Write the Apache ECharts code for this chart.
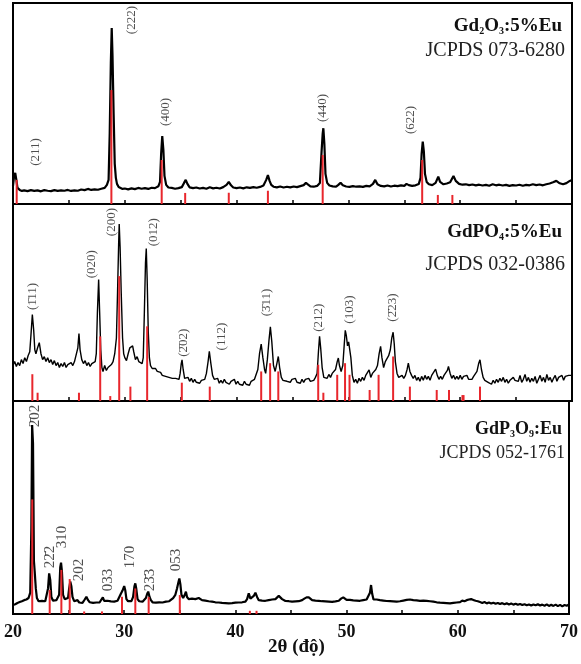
<!DOCTYPE html>
<html>
<head>
<meta charset="utf-8">
<script src="https://cdn.jsdelivr.net/npm/echarts@6/dist/echarts.min.js"></script>
<style>
  html, body { margin: 0; padding: 0; background: #fff; }
  #chart { width: 581px; height: 664px; }
</style>
</head>
<body>
<div id="chart"></div>
<script>
// ---- 2θ axis ----
const twoThetaMin = 20;
const twoThetaMax = 70;
const twoThetaLabels = [20, 30, 40, 50, 60, 70];

// ---- Gd2O3:5%Eu : measured pattern [2θ, intensity] ----
const gdOxideScan = [
  [20.0,9],[20.1,14],[20.2,15.5],[20.3,12],[20.4,8],[20.6,7],[20.8,6.5],[21.0,6.8],[21.3,6.4],[21.6,6.9],
  [21.9,6.5],[22.2,6.8],[22.5,6.3],[22.8,6.9],[23.1,6.6],[23.4,6.4],[23.7,6.9],[24.0,6.5],[24.3,6.8],[24.6,6.6],
  [24.9,7.0],[25.2,6.5],[25.5,6.8],[25.8,6.6],[26.1,7.2],[26.4,6.9],[26.7,7.5],[27.0,7.0],[27.3,7.3],[27.6,7.1],
  [27.9,7.6],[28.2,8.0],[28.4,9.5],[28.55,12],[28.65,35],[28.75,70],[28.83,87.6],[28.9,74],[29.0,45],[29.1,20],
  [29.2,13],[29.3,10],[29.45,8.5],[29.6,8.0],[29.8,7.5],[30.0,7.7],[30.3,7.3],[30.6,7.8],[30.9,7.4],[31.2,8.0],
  [31.5,7.6],[31.8,7.9],[32.1,7.5],[32.4,8.1],[32.7,7.9],[33.0,8.8],[33.15,11],[33.25,25],[33.35,33.8],[33.45,27],
  [33.55,14],[33.7,9.5],[33.9,8.2],[34.2,8.0],[34.5,7.6],[34.8,7.9],[35.1,8.4],[35.3,10.5],[35.45,12],[35.6,10],
  [35.8,8.3],[36.1,7.9],[36.4,8.2],[36.7,7.7],[37.0,8.0],[37.3,7.6],[37.6,8.3],[37.9,7.8],[38.2,8.1],[38.5,7.7],
  [38.8,8.4],[39.1,9.5],[39.3,11],[39.5,9.3],[39.7,8.2],[40.0,7.9],[40.3,8.2],[40.6,7.8],[40.9,8.3],[41.2,8.0],
  [41.5,8.4],[41.8,8.1],[42.1,8.5],[42.4,9.2],[42.65,12],[42.8,14.4],[42.95,11.5],[43.1,9.5],[43.3,8.6],[43.6,8.3],
  [43.9,8.7],[44.2,8.2],[44.5,8.6],[44.8,8.3],[45.1,8.7],[45.4,8.4],[45.7,8.9],[46.0,9.4],[46.2,10.5],[46.4,9.6],
  [46.6,8.8],[46.9,8.6],[47.2,9.0],[47.45,10.5],[47.6,26],[47.7,35],[47.76,37.7],[47.85,30],[47.95,15],[48.1,10.5],
  [48.3,9.2],[48.6,8.8],[48.9,8.6],[49.1,9.5],[49.3,10.6],[49.5,9.3],[49.8,8.7],[50.1,8.5],[50.4,8.9],[50.7,8.6],
  [51.0,8.8],[51.3,8.5],[51.6,9.0],[51.9,8.8],[52.2,10.0],[52.4,12],[52.6,9.8],[52.9,9.0],[53.2,8.8],[53.5,9.2],
  [53.8,8.7],[54.1,9.1],[54.4,8.9],[54.7,9.3],[55.0,9.0],[55.2,10.0],[55.4,9.4],[55.7,9.0],[56.0,9.3],[56.3,10.0],
  [56.45,13],[56.55,25],[56.65,31],[56.75,26],[56.85,15],[57.0,11],[57.2,9.8],[57.5,9.4],[57.8,10.5],[58.04,13.6],
  [58.2,11],[58.5,9.8],[58.8,10.2],[59.1,10.8],[59.4,13.9],[59.6,11.5],[59.9,10.0],[60.2,9.6],[60.5,9.8],[60.8,9.4],
  [61.1,9.7],[61.4,9.3],[61.7,9.6],[62.0,9.2],[62.3,9.5],[62.6,9.1],[62.9,9.8],[63.2,9.3],[63.5,9.6],[63.8,9.2],
  [64.1,9.5],[64.4,9.0],[64.7,9.4],[65.0,9.2],[65.3,9.6],[65.6,9.1],[65.9,9.5],[66.2,9.3],[66.5,9.8],[66.8,9.4],
  [67.1,9.7],[67.4,9.3],[67.7,9.8],[68.0,10.2],[68.3,10.8],[68.6,11.5],[68.9,10.3],[69.2,9.8],[69.5,10.4],[69.8,11.5],
  [70.0,12]
];
// JCPDS 073-6280 reference lines [2θ, intensity]
const gdOxideRef = [
  [20.33,12],[28.8,56.7],[33.3,21.9],[35.4,5.5],[39.3,5.6],[42.8,6.6],[47.7,24.4],[56.6,21.9],[58.0,4.5],[59.3,4.5]
];
const gdOxideHkl = ['(211)', '(222)', '(400)', '(440)', '(622)'];
const gdOxideHklAt = [[22.06,25.9],[30.62,91.5],[33.69,45.8],[47.73,47.8],[55.57,41.8]];

// ---- GdPO4:5%Eu : measured pattern ----
const gdPhosphateScan = [
  [20.0,18],[20.15,20],[20.3,17.5],[20.45,19.5],[20.6,18],[20.75,21],[20.9,19],[21.05,22],[21.2,20],[21.35,23],
  [21.5,25],[21.6,33],[21.73,43.9],[21.85,36],[21.95,26],[22.05,24],[22.2,27],[22.35,29.6],[22.5,24],[22.65,21],
  [22.8,22.5],[22.95,20],[23.1,22],[23.25,19.5],[23.4,21],[23.55,18.5],[23.7,20.5],[23.85,18],[24.0,19.5],[24.15,17],
  [24.3,19],[24.45,17.5],[24.6,19.5],[24.75,17],[24.9,18.5],[25.05,17.5],[25.2,19.5],[25.35,18],[25.5,20],[25.65,21],
  [25.8,27],[25.9,34.2],[26.0,26],[26.15,21],[26.3,19],[26.45,20.5],[26.6,18],[26.75,19.5],[26.9,17.5],[27.05,19],
  [27.2,18],[27.35,20],[27.45,24],[27.55,45],[27.66,61.7],[27.75,45],[27.85,26],[27.95,17],[28.05,15],[28.2,18],
  [28.35,15.5],[28.5,17],[28.65,16],[28.8,18.5],[28.95,20],[29.1,24],[29.25,32],[29.35,55],[29.45,80],[29.5,89.8],
  [29.58,78],[29.68,55],[29.8,32],[29.9,24],[30.0,22],[30.15,20.5],[30.3,24],[30.45,27],[30.6,26],[30.7,28],
  [30.8,25],[30.95,21],[31.1,22.5],[31.25,20],[31.4,21],[31.55,19],[31.65,22],[31.75,45],[31.85,70],[31.92,77.4],
  [32.0,62],[32.1,35],[32.2,22],[32.3,18],[32.45,16.5],[32.6,15.5],[32.75,16.5],[32.9,15],[33.05,14],[33.2,14.5],
  [33.35,13],[33.5,13.5],[33.65,12.5],[33.8,13.5],[33.95,12],[34.1,12.5],[34.25,11.5],[34.4,12.5],[34.55,11.5],[34.7,12],
  [34.85,11],[34.95,14],[35.05,19],[35.12,20.9],[35.22,16],[35.35,11.5],[35.5,10.5],[35.65,12],[35.8,10],[35.95,11.5],
  [36.1,9.5],[36.25,11],[36.4,9.5],[36.55,10.5],[36.7,9],[36.85,10.5],[37.0,9.5],[37.15,11],[37.3,14],[37.45,20],
  [37.56,25.2],[37.7,19],[37.85,13],[38.0,11],[38.15,10],[38.3,11.5],[38.45,9],[38.6,10.5],[38.75,9],[38.9,11],
  [39.05,9.5],[39.2,10.5],[39.35,8.5],[39.5,10],[39.65,9],[39.8,11],[39.95,8.5],[40.1,10],[40.25,8.5],[40.4,9.5],
  [40.55,8],[40.7,10],[40.85,8.5],[41.0,9.5],[41.15,8],[41.3,10],[41.45,9],[41.6,11],[41.75,12],[41.9,16],
  [42.05,24],[42.2,28.9],[42.35,22],[42.5,16],[42.6,14],[42.75,21],[42.9,31],[43.02,37.6],[43.15,30],[43.3,18],
  [43.45,15],[43.6,19],[43.73,22.6],[43.85,17],[44.0,12],[44.15,10.5],[44.3,11.5],[44.5,10],[44.65,11],[44.8,9.5],
  [44.95,11],[45.1,10],[45.25,11.5],[45.4,9.5],[45.55,10.5],[45.7,9],[45.85,11],[46.0,9.5],[46.15,11],[46.3,10],
  [46.45,11.5],[46.6,10],[46.75,11],[46.9,10.5],[47.05,12],[47.2,14],[47.32,25],[47.42,32.8],[47.52,27],[47.65,17],
  [47.8,12],[47.95,13],[48.1,11.5],[48.25,13.5],[48.4,12],[48.55,14],[48.7,13],[48.85,16],[49.0,20],[49.1,21.8],
  [49.2,18],[49.35,15],[49.5,18],[49.62,28],[49.72,35.9],[49.82,33],[49.92,28],[50.02,30],[50.12,29.4],[50.22,22],
  [50.35,13],[50.5,9.5],[50.65,11],[50.8,9],[50.95,11.5],[51.1,10],[51.25,12],[51.4,10.5],[51.55,13],[51.7,12],
  [51.85,15.8],[52.0,12],[52.15,14],[52.3,13],[52.45,16],[52.6,18],[52.75,24],[52.88,27.7],[53.0,22],[53.15,17],
  [53.3,20],[53.45,19],[53.6,23],[53.75,26],[53.88,32],[54.0,34.9],[54.1,29],[54.2,20],[54.35,14],[54.5,12],
  [54.65,11],[54.8,13],[54.95,11.5],[55.1,13],[55.25,16],[55.36,19.2],[55.5,15],[55.65,13],[55.8,11.5],[55.95,13],
  [56.1,10.5],[56.25,12],[56.4,10],[56.55,12.5],[56.7,10.5],[56.85,13],[57.0,11],[57.15,12.5],[57.3,10.5],[57.45,13],
  [57.6,14],[57.8,16.2],[57.95,13],[58.1,11],[58.25,12.5],[58.4,11],[58.55,13],[58.7,14],[58.85,15.5],[58.95,17.5],
  [59.1,14],[59.25,11.5],[59.4,13],[59.55,11],[59.7,12.5],[59.85,11],[60.0,13],[60.15,11],[60.3,12.5],[60.45,11.5],
  [60.6,13],[60.75,11],[60.9,12],[61.05,11],[61.2,12.5],[61.35,13],[61.5,15],[61.65,19],[61.77,20.9],[61.9,16],
  [62.05,12],[62.2,10.5],[62.35,11],[62.5,9.5],[62.65,10],[62.8,8.5],[62.95,10.5],[63.1,9],[63.25,11],[63.4,9.5],
  [63.55,11.5],[63.7,10],[63.85,12],[64.0,9.5],[64.15,11],[64.3,9],[64.45,10.5],[64.6,9.5],[64.75,12],[64.9,10.5],
  [65.05,11.5],[65.2,10],[65.35,13],[65.5,9.5],[65.65,11],[65.8,13.5],[65.95,10],[66.1,12],[66.25,9.5],[66.4,11.5],
  [66.55,10],[66.7,12.5],[66.85,9],[67.0,11],[67.15,13],[67.3,10],[67.45,12],[67.6,9.5],[67.75,13.5],[67.9,10.5],
  [68.05,12],[68.2,9.5],[68.35,11.5],[68.5,13],[68.65,10],[68.8,12],[68.95,11],[69.1,13],[69.25,10.5],[69.4,12.5],
  [69.55,11.5],[69.7,13],[69.85,12],[70.0,13]
];
// JCPDS 032-0386 reference lines
const gdPhosphateRef = [
  [21.73,13.6],[22.2,4.2],[25.9,4.2],[27.8,32.8],[28.7,2.5],[29.5,63.4],[30.5,7.3],[32.0,37.9],[35.1,9.3],[37.6,7.3],
  [42.2,15],[43.0,19.2],[43.73,15],[47.3,18.4],[47.76,4.2],[49.0,13.3],[49.7,19.2],[50.1,13.3],[51.9,5.6],[52.7,13.3],
  [54.0,22.6],[55.5,7.3],[57.9,5.6],[59.0,5.6],[60.2,3],[60.3,3],[61.77,7.3]
];
const gdPhosphateHkl = ['(1\u030411)', '(020)', '(200)', '(012)', '(2\u030402)', '(112)', '(3\u030411)', '(212)', '(103)', '(2\u030423)'];
const gdPhosphateHklAt = [[21.73,53.1],[27.04,69.4],[28.86,90.8],[32.61,85.7],[35.3,29.6],[38.67,32.7],[42.69,50],[47.31,42.3],[50.14,46.4],[53.96,47.4]];

// ---- GdP3O9:Eu : measured pattern ----
const gdMetaphosphateScan = [
  [20.0,4.2],[20.2,4.6],[20.4,5.2],[20.6,5.6],[20.8,6.0],[21.0,6.5],[21.2,6.8],[21.4,7.5],[21.55,10],[21.65,40],
  [21.72,88.7],[21.8,80],[21.88,25],[21.95,20],[22.05,12],[22.15,7.5],[22.3,6],[22.45,5.5],[22.6,6.2],[22.75,5.3],
  [22.9,6],[23.05,6.8],[23.15,12],[23.25,19.1],[23.35,16],[23.45,8],[23.6,6.2],[23.75,5.5],[23.9,6.5],[24.05,6],
  [24.15,9],[24.25,22],[24.32,24.1],[24.4,20],[24.5,9],[24.65,7],[24.8,6.5],[24.95,7.5],[25.05,12],[25.15,15.2],
  [25.25,13],[25.35,8],[25.5,6],[25.65,5.5],[25.8,6.5],[25.95,5.4],[26.1,6.2],[26.25,5.2],[26.45,6.8],[26.6,8.1],
  [26.75,6.5],[26.9,5.5],[27.05,6],[27.2,5.2],[27.35,6.1],[27.5,5.4],[27.65,6],[27.8,5.5],[27.95,6.8],[28.08,7.8],
  [28.2,6.2],[28.35,5.5],[28.5,6.2],[28.65,5.3],[28.8,5.9],[28.95,5.1],[29.1,5.8],[29.25,5.3],[29.4,6.2],[29.55,7],
  [29.7,9.5],[29.85,11],[30.0,13.1],[30.1,11],[30.2,7],[30.35,6],[30.5,6.5],[30.65,6],[30.8,8],[30.92,13],
  [31.0,14.4],[31.08,12],[31.2,7],[31.35,6],[31.5,6.8],[31.65,5.8],[31.8,6.5],[31.95,7.5],[32.07,9.5],[32.16,10.5],
  [32.28,8],[32.4,6.5],[32.55,5.5],[32.7,6.2],[32.85,5.3],[33.0,6],[33.15,5.5],[33.3,6.3],[33.45,5.4],[33.6,6.1],
  [33.75,5.8],[33.9,6.5],[34.05,6],[34.2,6.6],[34.4,7.5],[34.6,9],[34.75,12],[34.88,15],[34.96,16.7],[35.05,14],
  [35.15,9],[35.3,7.5],[35.45,9],[35.55,10.5],[35.65,8],[35.8,7],[35.95,6.5],[36.1,7.2],[36.25,6.3],[36.4,7],
  [36.55,6.5],[36.7,7.5],[36.85,7.0],[37.0,6.5],[37.15,7.2],[37.3,6.3],[37.45,6.8],[37.6,6],[37.75,6.5],[37.9,5.8],
  [38.05,6.2],[38.2,5.5],[38.35,6],[38.5,5.4],[38.65,5.9],[38.8,5.2],[38.95,5.7],[39.1,5.1],[39.25,5.6],[39.4,5],
  [39.55,5.5],[39.7,5.1],[39.85,5.8],[40.0,5.3],[40.15,5.9],[40.3,5.4],[40.45,6],[40.6,5.5],[40.75,6.2],[40.9,5.8],
  [41.05,7],[41.2,9.7],[41.35,7.2],[41.5,6.8],[41.65,8.5],[41.8,10],[41.95,8],[42.1,6.5],[42.25,5.8],[42.4,6.3],
  [42.55,5.6],[42.7,6.2],[42.85,5.9],[43.0,6.5],[43.15,6],[43.3,6.8],[43.45,6.2],[43.6,7],[43.75,7.5],[43.9,8.5],
  [44.05,8],[44.2,7],[44.35,6.5],[44.5,6.1],[44.65,6.6],[44.8,6],[44.95,6.5],[45.1,5.8],[45.25,6.4],[45.4,5.9],
  [45.55,6.5],[45.7,6],[45.85,6.8],[46.0,6.5],[46.2,7.2],[46.4,7.8],[46.6,7.8],[46.75,7.0],[46.9,6.5],[47.05,7],
  [47.2,6.3],[47.35,6.8],[47.5,6.2],[47.65,6.7],[47.8,6],[47.95,6.5],[48.1,5.9],[48.25,6.4],[48.4,5.8],[48.55,6.2],
  [48.7,5.7],[48.85,6.3],[49.0,5.9],[49.15,6.5],[49.3,6.2],[49.5,7.2],[49.7,7.8],[49.85,7],[50.0,6.6],[50.15,6.1],
  [50.3,6.6],[50.45,5.9],[50.6,6.4],[50.75,5.8],[50.9,6.3],[51.05,5.7],[51.2,6.2],[51.35,5.8],[51.5,6.5],[51.65,6],
  [51.8,6.8],[51.95,7.5],[52.1,10],[52.2,13.6],[52.3,9.5],[52.42,6.8],[52.55,6.2],[52.7,6.8],[52.85,6],[53.0,6.5],
  [53.15,5.8],[53.3,6.3],[53.45,5.6],[53.6,6.1],[53.75,5.5],[53.9,6],[54.05,5.4],[54.2,5.9],[54.35,5.3],[54.5,5.8],
  [54.65,5.4],[54.8,6],[54.95,5.6],[55.1,6.3],[55.25,5.8],[55.4,6.6],[55.55,6.2],[55.7,6.8],[55.85,7.2],[56.0,6.5],
  [56.15,5.9],[56.3,6.4],[56.45,5.7],[56.6,6.2],[56.75,6.8],[56.9,6.3],[57.05,6.9],[57.2,6.2],[57.35,6.7],[57.5,6],
  [57.65,6.6],[57.8,5.8],[57.95,6.2],[58.1,5.5],[58.25,5.9],[58.4,5.3],[58.55,5.8],[58.7,5.2],[58.85,5.7],[59.0,5.1],
  [59.15,5.6],[59.3,5.0],[59.45,5.5],[59.6,5.2],[59.75,5.8],[59.9,5.4],[60.05,6.0],[60.2,5.6],[60.4,6.3],[60.6,6.0],
  [60.8,6.5],[61.0,6.8],[61.2,7.0],[61.4,6.6],[61.6,6.2],[61.8,6.0],[62.0,5.6],[62.2,5.2],[62.4,5.6],[62.6,5.0],
  [62.8,5.4],[63.0,4.9],[63.2,5.3],[63.4,4.8],[63.6,5.2],[63.8,4.7],[64.0,5.1],[64.2,4.6],[64.4,5.0],[64.6,4.5],
  [64.8,4.9],[65.0,4.4],[65.2,4.8],[65.4,4.3],[65.6,4.7],[65.8,4.2],[66.0,4.6],[66.2,4.1],[66.4,4.5],[66.6,4.0],
  [66.8,4.5],[67.0,4.1],[67.2,4.6],[67.4,4.0],[67.6,4.4],[67.8,3.9],[68.0,4.5],[68.2,3.8],[68.4,4.3],[68.6,3.8],
  [68.8,4.4],[69.0,3.7],[69.2,4.3],[69.4,3.6],[69.6,4.2],[69.8,3.9],[70.0,4.5]
];
// JCPDS 052-1761 reference lines
const gdMetaphosphateRef = [
  [21.73,53.8],[23.3,11.3],[24.35,20.7],[25.1,16.4],[26.4,1.2],[28.0,1.2],[29.8,8.1],[31.0,12],[32.2,8],[35.0,8.9],
  [41.3,1.5],[41.9,1.5]
];
const gdMetaphosphateHkl = ['2\u030402', '22\u03042', '310', '202', '033', '170', '23\u03043', '053'];
const gdMetaphosphateHklAt = [[21.97,93],[23.31,26.8],[24.45,36.2],[25.93,20.7],[28.52,16],[30.55,26.8],[32.32,16],[34.7,25.4]];

// ---- panel captions ----
const sampleNames = [
  '{b|Gd}{s|2}{b|O}{s|3}{b|:5%Eu}',
  '{b|GdPO}{s|4}{b|:5%Eu}',
  '{b|GdP}{s|3}{b|O}{s|9}{b|:Eu}'
];
const cardNames = ['JCPDS 073-6280', 'JCPDS 032-0386', 'JCPDS 052-1761'];
const xAxisTitle = '2\u03b8 (\u0111\u1ed9)';

// ---- drawing ----
const SERIF = '"Liberation Serif", "DejaVu Serif", "Times New Roman", serif';
const panels = [
  { scan: gdOxideScan, ref: gdOxideRef, hkl: gdOxideHkl, at: gdOxideHklAt, lw: 2.2, hklSize: 13 },
  { scan: gdPhosphateScan, ref: gdPhosphateRef, hkl: gdPhosphateHkl, at: gdPhosphateHklAt, lw: 1.4, hklSize: 13 },
  { scan: gdMetaphosphateScan, ref: gdMetaphosphateRef, hkl: gdMetaphosphateHkl, at: gdMetaphosphateHklAt, lw: 2.2, hklSize: 15 }
];
const gridBoxes = [
  { top: 3, height: 201 },
  { top: 204, height: 197 },
  { top: 401, height: 213 }
];
const captionTops = [[11, 36], [217, 250], [414, 439]];
const captionSizes = [[19, 20], [19, 20], [18, 18]];

const chart = echarts.init(document.getElementById('chart'), null, { renderer: 'canvas' });

const grid = gridBoxes.map(g => ({
  left: 13, right: 9, top: g.top, height: g.height,
  show: true, borderColor: '#000', borderWidth: 2, backgroundColor: 'transparent'
}));

const xAxis = panels.map((p, i) => ({
  type: 'value', gridIndex: i, min: twoThetaMin, max: twoThetaMax, interval: 5,
  axisLine: { show: true, lineStyle: { color: '#000', width: 2 } },
  axisTick: { show: true, inside: true, length: 4, lineStyle: { color: '#000', width: 1.5 } },
  axisLabel: {
    show: i === 2, margin: 9,
    formatter: v => (twoThetaLabels.indexOf(v) >= 0 ? String(v) : ''),
    fontFamily: SERIF, fontWeight: 'bold', fontSize: 18, color: '#111'
  },
  splitLine: { show: false }
}));

const yAxis = panels.map((p, i) => ({
  type: 'value', gridIndex: i, min: 0, max: 100, show: false
}));

const series = [];
panels.forEach((p, i) => {
  series.push({
    type: 'line', xAxisIndex: i, yAxisIndex: i, data: p.scan,
    showSymbol: false, symbol: 'none', silent: true,
    lineStyle: { color: '#000', width: p.lw }, z: 2
  });
  series.push({
    type: 'bar', xAxisIndex: i, yAxisIndex: i, data: p.ref,
    barWidth: 2, silent: true,
    itemStyle: { color: '#e8262c' }, z: 3
  });
  series.push({
    type: 'scatter', xAxisIndex: i, yAxisIndex: i, silent: true,
    symbolSize: 1, itemStyle: { color: 'rgba(0,0,0,0)' },
    data: p.hkl.map((t, k) => ({ name: t, value: p.at[k] })),
    label: {
      show: true, position: 'inside', rotate: 90,
      formatter: q => q.name,
      fontFamily: SERIF, fontSize: p.hklSize, color: '#222'
    },
    z: 4
  });
});

const title = [];
sampleNames.forEach((s, i) => {
  title.push({
    text: s, right: 14, top: captionTops[i][0],
    textStyle: {
      rich: {
        b: { fontFamily: SERIF, fontWeight: 'bold', fontSize: captionSizes[i][0], color: '#111' },
        s: { fontFamily: SERIF, fontWeight: 'bold', fontSize: 10, color: '#111', verticalAlign: 'bottom', padding: [10, 0, 0, 0] }
      }
    }
  });
  title.push({
    text: cardNames[i], right: 11, top: captionTops[i][1],
    textStyle: { fontFamily: SERIF, fontWeight: 'normal', fontSize: captionSizes[i][1], color: '#222' }
  });
});

chart.setOption({
  animation: false,
  backgroundColor: '#fff',
  title: title,
  grid: grid,
  xAxis: xAxis,
  yAxis: yAxis,
  series: series,
  graphic: [{
    type: 'text', left: 268, top: 638,
    style: { text: xAxisTitle, font: 'bold 19px ' + SERIF, fill: '#111' }
  }]
});
</script>
</body>
</html>
